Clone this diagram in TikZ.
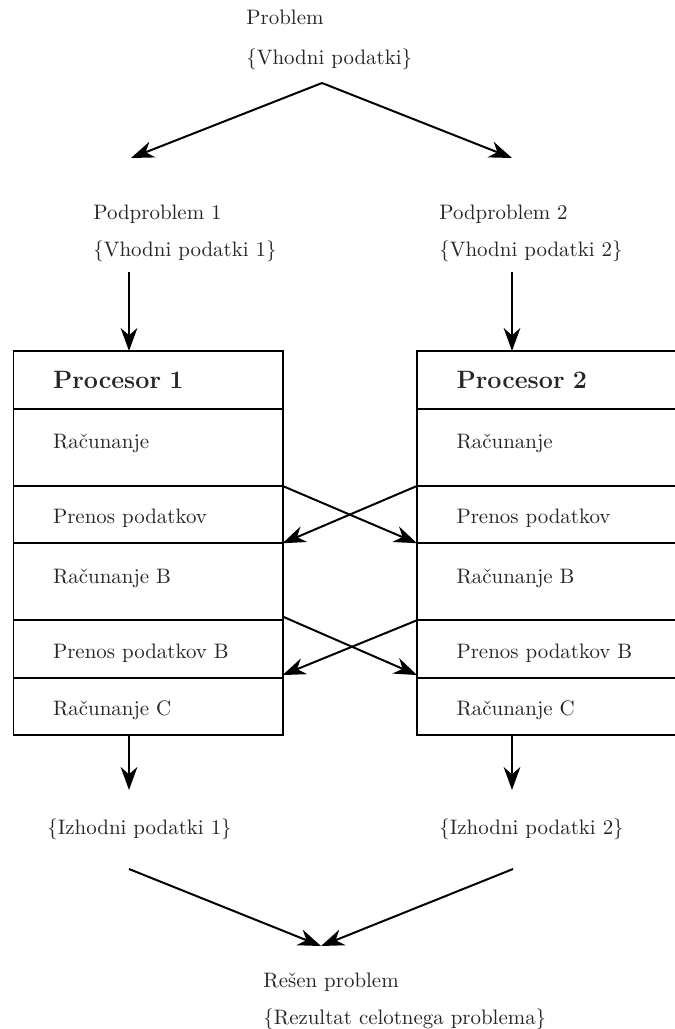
\documentclass[tikz,border=0pt]{standalone}
\usepackage{fontspec}
\usetikzlibrary{arrows.meta}
\begin{document}
\begin{tikzpicture}[x=0.478pt,y=-0.478pt,
  every node/.style={text=black!85},
  conn/.style={line width=0.95pt,-{Stealth[length=11pt,width=8pt,inset=3.5pt]}},
  lbl/.style={anchor=base west,inner sep=0pt},
  cell/.style={draw,line width=0.95pt,anchor=north west,outer sep=0pt,
    minimum width=128.6pt,text width=90.8pt,align=left,inner xsep=18.9pt,inner ysep=0pt},
  hdr/.style={cell,minimum height=27.7pt,font=\large\bfseries},
  tall/.style={cell,minimum height=36.8pt,text height=7pt,text depth=5.8pt},
  short/.style={cell,minimum height=27.4pt,text height=10.8pt,text depth=2pt}]
\useasboundingbox (0,0) rectangle (675,1029);
\clip (0,0) rectangle (675,1029);

% input problem
\node[lbl] (prob) at (246,25) {Problem};
\node[lbl] (probin) at (246,65) {\{Vhodni podatki\}};
\coordinate (split) at (322,83);
\coordinate (splitL) at (131,158);
\coordinate (splitR) at (512,158);
\draw[conn] (split) -- (splitL);
\draw[conn] (split) -- (splitR);

% sub-problems
\node[lbl] (sub1) at (93,219) {Podproblem 1};
\node[lbl] (sub1in) at (93,256) {\{Vhodni podatki 1\}};
\node[lbl] (sub2) at (439,219) {Podproblem 2};
\node[lbl] (sub2in) at (439,256) {\{Vhodni podatki 2\}};

% processor 1
\node[hdr]   (p1h) at (13.5,351) {Procesor 1};
\node[tall]  (p1a) at (p1h.south west) {Računanje};
\node[short] (p1b) at (p1a.south west) {Prenos podatkov};
\node[tall]  (p1c) at (p1b.south west) {Računanje B};
\node[short] (p1d) at (p1c.south west) {Prenos podatkov B};
\node[short] (p1e) at (p1d.south west) {Računanje C};

% processor 2
\node[hdr]   (p2h) at (417,351) {Procesor 2};
\node[tall]  (p2a) at (p2h.south west) {Računanje};
\node[short] (p2b) at (p2a.south west) {Prenos podatkov};
\node[tall]  (p2c) at (p2b.south west) {Računanje B};
\node[short] (p2d) at (p2c.south west) {Prenos podatkov B};
\node[short] (p2e) at (p2d.south west) {Računanje C};

% feeding the processors
\coordinate (in1a) at (129,272);
\coordinate (in1b) at (129,351);
\coordinate (in2a) at (512,272);
\coordinate (in2b) at (512,351);
\draw[conn] (in1a) -- (in1b);
\draw[conn] (in2a) -- (in2b);

% data exchange
\draw[conn] (p1a.south east) -- (p2c.north west);
\draw[conn] (p2a.south west) -- (p1c.north east);
\draw[conn] ([yshift=1.8pt]p1c.south east) -- ([yshift=1.2pt]p2e.north west);
\draw[conn] (p2c.south west) -- ([yshift=1.2pt]p1e.north east);

% outputs
\coordinate (out1a) at (129,736);
\coordinate (out1b) at (129,790);
\coordinate (out2a) at (512,736);
\coordinate (out2b) at (512,790);
\draw[conn] (out1a) -- (out1b);
\draw[conn] (out2a) -- (out2b);
\node[lbl] (res1) at (47,834) {\{Izhodni podatki 1\}};
\node[lbl] (res2) at (439,834) {\{Izhodni podatki 2\}};

% merging the results
\coordinate (joinL) at (129,869);
\coordinate (joinR) at (513,869);
\coordinate (join) at (321,946);
\draw[conn] (joinL) -- (join);
\draw[conn] (joinR) -- (join);
\node[lbl] (done) at (263,987) {Rešen problem};
\node[lbl] (donein) at (263,1024) {\{Rezultat celotnega problema\}};
\end{tikzpicture}
\end{document}
